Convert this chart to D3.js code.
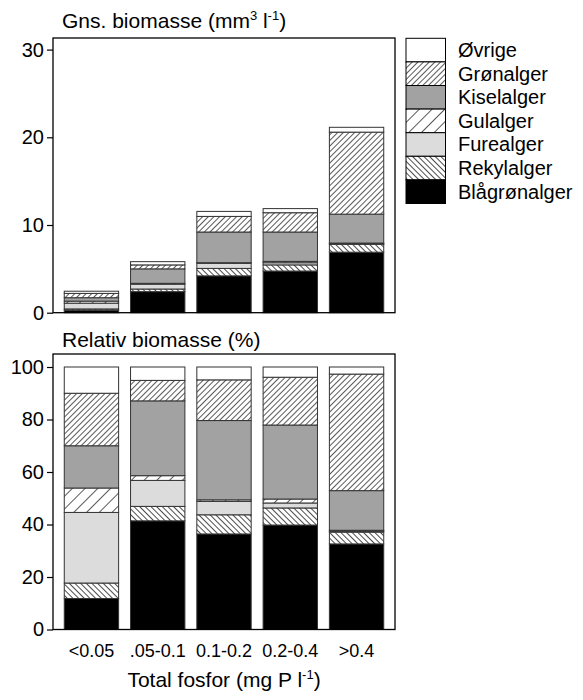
<!DOCTYPE html>
<html lang="da">
<head>
<meta charset="UTF-8">
<title>Biomasse</title>
<style>
  body { margin: 0; background: #fff; }
  text { font-family: "Liberation Sans", Arial, sans-serif; fill: #000; }
</style>
</head>
<body>
<script src="https://d3js.org/d3.v7.min.js"></script>
<script>
var width = 583, height = 700;

// categories (total P, mg/l)
var categories = ["<0.05", ".05-0.1", "0.1-0.2", "0.2-0.4", ">0.4"];
// groups, bottom to top
var groups = ["Blågrønalger", "Rekylalger", "Furealger", "Gulalger", "Kiselalger", "Grønalger", "Øvrige"];

// mean biomass (mm3/l)
var absBlaa  = [0.29, 2.40, 4.20, 4.75, 6.90];
var absRekyl = [0.14, 0.30, 0.85, 0.70, 0.90];
var absFure  = [0.66, 0.55, 0.58, 0.25, 0.07];
var absGul   = [0.23, 0.10, 0.07, 0.15, 0.07];
var absKisel = [0.39, 1.65, 3.50, 3.35, 3.30];
var absGron  = [0.49, 0.45, 1.78, 2.20, 9.35];
var absOvr   = [0.25, 0.37, 0.57, 0.47, 0.55];

// relative biomass (%)
var relBlaa  = [11.8, 41.4, 36.4, 39.8, 32.6];
var relRekyl = [5.9, 5.5, 7.3, 6.5, 4.5];
var relFure  = [26.9, 9.9, 5.1, 1.9, 0.4];
var relGul   = [9.3, 1.8, 0.6, 1.5, 0.3];
var relKisel = [16.1, 28.5, 30.2, 28.2, 15.1];
var relGron  = [20.0, 7.8, 15.5, 18.2, 44.4];
var relOvr   = [10.0, 5.1, 4.9, 3.9, 2.7];

var absTicks = [0, 10, 20, 30];
var relTicks = [0, 20, 40, 60, 80, 100];

var svg = d3.select("body").append("svg").attr("width", width).attr("height", height);

// hatch patterns
var defs = svg.append("defs");
function hatch(id, size, angle, sw) {
  var p = defs.append("pattern")
    .attr("id", id)
    .attr("patternUnits", "userSpaceOnUse")
    .attr("width", size).attr("height", size)
    .attr("patternTransform", "rotate(" + angle + ")");
  p.append("rect").attr("width", size).attr("height", size).attr("fill", "#fff");
  p.append("line").attr("x1", 0).attr("y1", 0).attr("x2", 0).attr("y2", size)
    .attr("stroke", "#000").attr("stroke-width", sw);
}
hatch("h-gron", 4, 45, 1.3);
hatch("h-gul", 9, 45, 1.3);
hatch("h-rekyl", 4, -45, 1.4);

var fills = {
  "Blågrønalger": "#000",
  "Rekylalger": "url(#h-rekyl)",
  "Furealger": "#dcdcdc",
  "Gulalger": "url(#h-gul)",
  "Kiselalger": "#a2a2a2",
  "Grønalger": "url(#h-gron)",
  "Øvrige": "#fff"
};

function rows(cols) {
  return categories.map(function(c, i) {
    var r = {cat: c};
    groups.forEach(function(g, k) { r[g] = cols[k][i]; });
    return r;
  });
}
var absRows = rows([absBlaa, absRekyl, absFure, absGul, absKisel, absGron, absOvr]);
var relRows = rows([relBlaa, relRekyl, relFure, relGul, relKisel, relGron, relOvr]);

var stack = d3.stack().keys(groups);

var x = d3.scaleBand().domain(categories).range([53, 395]).paddingInner(0.18).paddingOuter(0.17);

function panel(data, y, frameTop, ticks) {
  var g = svg.append("g");
  var layers = g.selectAll("g.layer")
    .data(stack(data))
    .enter().append("g")
    .attr("class", "layer")
    .attr("fill", function(d) { return fills[d.key]; });

  layers.selectAll("rect")
    .data(function(d) { return d; })
    .enter().append("rect")
    .attr("x", function(d) { return x(d.data.cat); })
    .attr("y", function(d) { return y(d[1]); })
    .attr("width", x.bandwidth())
    .attr("height", function(d) { return y(d[0]) - y(d[1]); })
    .attr("stroke", "#333")
    .attr("stroke-width", 1);

  // frame
  g.append("rect")
    .attr("x", 53).attr("y", frameTop)
    .attr("width", 395 - 53).attr("height", y(0) - frameTop)
    .attr("fill", "none").attr("stroke", "#000").attr("stroke-width", 1.3);

  var ax = g.append("g")
    .attr("transform", "translate(53,0)")
    .call(d3.axisLeft(y).tickValues(ticks).tickSize(6).tickPadding(3));
  ax.select(".domain").remove();
  ax.selectAll("line").attr("stroke", "#000").attr("stroke-width", 1.2);
  ax.selectAll("text").style("font-size", "20px").attr("fill", "#000")
    .style("font-family", '"Liberation Sans", Arial, sans-serif');
  return g;
}

var yAbs = d3.scaleLinear().domain([0, 30]).range([312.7, 49.6]);
var yRel = d3.scaleLinear().domain([0, 100]).range([629.5, 367]);

panel(absRows, yAbs, 38, absTicks);
panel(relRows, yRel, 354, relTicks);

// x axis labels
var xa = svg.append("g")
  .attr("transform", "translate(0," + yRel(0) + ")")
  .call(d3.axisBottom(x).tickSize(0).tickPadding(15));
xa.select(".domain").remove();
xa.selectAll("text").style("font-size", "18px").attr("fill", "#000")
  .style("font-family", '"Liberation Sans", Arial, sans-serif');

// titles
var t1 = svg.append("text").attr("x", 62).attr("y", 28).style("font-size", "21px");
t1.append("tspan").text("Gns. biomasse (mm");
t1.append("tspan").attr("dy", -8).style("font-size", "13px").text("3");
t1.append("tspan").attr("dy", 8).text(" l");
t1.append("tspan").attr("dy", -8).style("font-size", "13px").text("-1");
t1.append("tspan").attr("dy", 8).text(")");

svg.append("text").attr("x", 62).attr("y", 347).style("font-size", "21px")
  .text("Relativ biomasse (%)");

var t3 = svg.append("text").attr("x", 224).attr("y", 687)
  .attr("text-anchor", "middle").style("font-size", "21px");
t3.append("tspan").text("Total fosfor (mg P l");
t3.append("tspan").attr("dy", -8).style("font-size", "13px").text("-1");
t3.append("tspan").attr("dy", 8).text(")");

// legend
var legendOrder = groups.slice().reverse();
var rowH = 23.6;
var leg = svg.append("g").attr("transform", "translate(406,38.3)");
var item = leg.selectAll("g")
  .data(legendOrder)
  .enter().append("g")
  .attr("transform", function(d, i) { return "translate(0," + (i * rowH) + ")"; });
item.append("rect")
  .attr("width", 39.5).attr("height", rowH)
  .attr("fill", function(d) { return fills[d]; })
  .attr("stroke", "#000").attr("stroke-width", 1);
item.append("text")
  .attr("x", 52).attr("y", rowH / 2 + 7)
  .style("font-size", "20px")
  .text(function(d) { return d; });
</script>
</body>
</html>
